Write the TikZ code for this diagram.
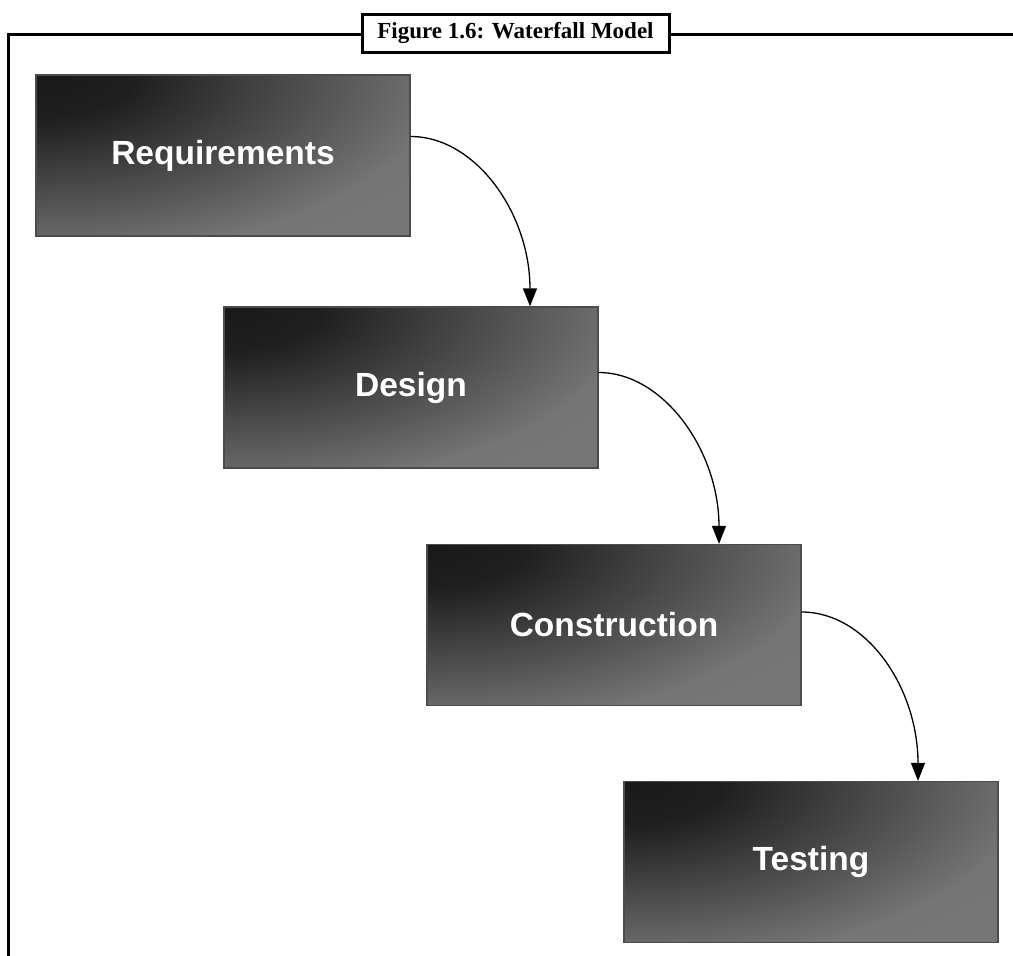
\documentclass[tikz,border=0pt]{standalone}
\usepackage{fontspec}
\setsansfont{Liberation Sans}
\setmainfont{Liberation Serif}
\usetikzlibrary{arrows.meta}
\pgfdeclareradialshading{cornerglow}{\pgfpoint{0bp}{0bp}}{color(0bp)=(black!90); color(4bp)=(black!88); color(17bp)=(black!54); color(50bp)=(black!52)}
\begin{document}
\begin{tikzpicture}[x=1pt,y=-1pt,
  stage/.style={draw=black!70, line width=1.2pt, fill=black!55,
    path picture={\shade[shading=cornerglow] (path picture bounding box.north west) ellipse (600pt and 270pt);},
    minimum width=374pt, minimum height=161pt, inner sep=0pt,
    text=white, font=\sffamily\bfseries\fontsize{33.5}{40}\selectfont},
  flow/.style={-{Triangle[length=18pt,width=14pt]}, line width=1.3pt},
  frame/.style={line width=3pt},
  titlebox/.style={draw, fill=white, line width=3pt, minimum width=307pt,
    minimum height=38pt, inner sep=0pt,
    font=\rmfamily\bfseries\fontsize{23}{26}\selectfont}]
\useasboundingbox (0,0) rectangle (1013,956);
\coordinate (fb) at (8,958);
\coordinate (fc) at (8,34);
\coordinate (fr) at (1015,34);
\draw[frame] (fb) -- (fc) -- (fr);
\node[titlebox] (title) at (515.5,33) {Figure 1.6: Waterfall Model};

\node[stage] (req) at (223,155.5) {\raisebox{-2pt}{Requirements}};
\node[stage] (des) at (411,387.5) {\raisebox{-2pt}{Design}};
\node[stage] (con) at (614,625) {\raisebox{-2pt}{Construction}};
\node[stage] (tes) at (811,862) {\raisebox{-2pt}{Testing}};

\draw[flow] ([yshift=19pt]req.east) .. controls +(65,0) and +(0,-93) .. ([xshift=119pt]des.north);
\draw[flow] ([yshift=15pt]des.east) .. controls +(65,0) and +(0,-93) .. ([xshift=105pt]con.north);
\draw[flow] ([yshift=13pt]con.east) .. controls +(65,0) and +(0,-93) .. ([xshift=107pt]tes.north);
\end{tikzpicture}
\end{document}
